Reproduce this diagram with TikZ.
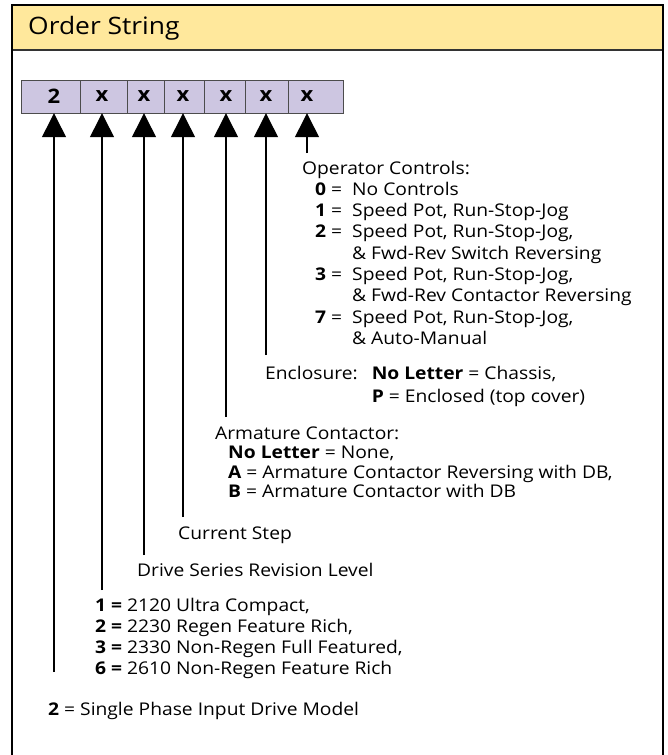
\documentclass[tikz,border=0pt]{standalone}
\usepackage{fontspec}
\setmainfont{Open Sans}[FakeStretch=1.1]
\usepackage{tikz}
\usetikzlibrary{positioning, arrows.meta}
\definecolor{headyellow}{HTML}{FFE89C}
\definecolor{boxlilac}{HTML}{CDC6E1}

\begin{document}
\begin{tikzpicture}[
        x=1pt, y=-1pt,
        frame/.style = {line width=2.4pt},
        cell/.style  = {draw=black!70, fill=boxlilac, minimum height=33pt, inner sep=0pt, anchor=north west},
        digit/.style = {minimum height=33pt, inner sep=0pt, font=\fontsize{20}{22}\selectfont\bfseries},
        desc/.style  = {anchor=base west, inner sep=0pt, font=\fontsize{17.5}{21.3}\selectfont},
        arrow/.style = {-{Triangle[width=24pt, length=24pt]}, line width=1.3pt},
    ]
        \useasboundingbox (0,0) rectangle (668,755);

        %---- header ----
        \fill[headyellow] (12,5) rectangle (663,50);
        \draw[line width=1.8pt, black!80] (12,50) -- (663,50);
        \node[anchor=west, inner sep=0pt, font=\fontsize{24}{27}\selectfont] (title) at (28,28) {Order String};
        \draw[frame] (12,755) -- (12,5) -- (663,5) -- (663,755);

        %---- order string cells ----
        \foreach \l/\r [count=\i] in {21/80, 80/127, 127/164, 164/204, 204/245, 245/288, 288/343}
            \node[cell, minimum width=\r-\l] (b\i) at (\l,80) {};
        \foreach \x/\t [count=\i] in {54/2, 102/x, 144/x, 183/x, 226/x, 266/x, 307/x}
            \node[digit] (d\i) at (\x,96.5) {\t};

        %---- descriptions ----
        \node[desc] (opctl) at (302,174) {\begin{tabular}[t]{@{\hspace{13pt}}r@{\hspace{5pt}}l@{\hspace{10pt}}l@{}}
            \multicolumn{3}{@{}l@{}}{Operator Controls:}\\
            \textbf{0} & = & No Controls\\
            \textbf{1} & = & Speed Pot, Run-Stop-Jog\\
            \textbf{2} & = & Speed Pot, Run-Stop-Jog,\\
                       &   & \& Fwd-Rev Switch Reversing\\
            \textbf{3} & = & Speed Pot, Run-Stop-Jog,\\
                       &   & \& Fwd-Rev Contactor Reversing\\
            \textbf{7} & = & Speed Pot, Run-Stop-Jog,\\
                       &   & \& Auto-Manual
        \end{tabular}};
        \node[desc] (encl) at (265,379) {\begin{tabular}[t]{@{}l@{\hspace{14pt}}l@{}}
            Enclosure: & \textbf{No Letter} = Chassis,\\[2pt]
                       & \textbf{P} = Enclosed (top cover)
        \end{tabular}};
        \node[desc, font=\fontsize{17.5}{19.5}\selectfont] (armc) at (215,439) {\begin{tabular}[t]{@{}l@{}}
            Armature Contactor:\\
            \hspace{13pt}\textbf{No Letter} = None,\\
            \hspace{13pt}\textbf{A} = Armature Contactor Reversing with DB,\\
            \hspace{13pt}\textbf{B} = Armature Contactor with DB
        \end{tabular}};
        \node[desc] (cstep) at (178,539) {Current Step};
        \node[desc] (drev) at (137,576) {Drive Series Revision Level};
        \node[desc] (model) at (95,611) {\begin{tabular}[t]{@{}l@{}}
            \textbf{1 =} 2120 Ultra Compact,\\
            \textbf{2 =} 2230 Regen Feature Rich,\\
            \textbf{3 =} 2330 Non-Regen Full Featured,\\
            \textbf{6 =} 2610 Non-Regen Feature Rich
        \end{tabular}};
        \node[desc] (phase) at (48,715) {\textbf{2} = Single Phase Input Drive Model};

        %---- arrows ----
        \foreach \i/\y in {1/672, 2/590, 3/555, 4/517, 5/417, 6/355, 7/153} {
            \coordinate (t\i) at (d\i.south |- 0,\y);
            \draw[arrow] (t\i) -- (d\i);
        }
    \end{tikzpicture}
\end{document}
